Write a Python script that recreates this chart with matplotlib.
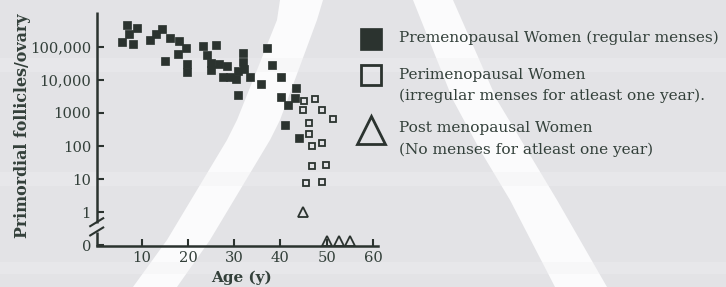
import numpy as np
import matplotlib
matplotlib.use("Agg")
import matplotlib.pyplot as plt
from matplotlib.patches import Polygon
from matplotlib.lines import Line2D
from matplotlib.transforms import ScaledTranslation

# ---------------- data ----------------
pre_age = [6.9, 9.1, 7.3, 5.8, 8.2, 14.3, 13.0, 11.8, 16.2, 18.1, 19.6, 17.9, 15.0, 19.9,
           19.9, 23.3, 26.1, 24.1, 25.1, 25.0, 26.8, 28.4, 27.5, 29.0, 30.4, 30.9, 32.0,
           32.0, 32.1, 33.4, 30.8, 35.9, 37.2, 38.2, 40.2, 43.3, 40.1, 41.7, 43.1, 40.9, 44.0]
pre_count = [460000, 370000, 240000, 140000, 120000, 340000, 240000, 160000, 190000, 145000,
             91000, 59000, 38000, 31000, 17000, 105000, 110000, 58000, 33000, 20000, 30000,
             26000, 12000, 12000, 10500, 19000, 66000, 35000, 21000, 12000, 3400, 7400, 91000,
             29000, 12300, 5500, 3000, 1700, 2750, 430, 170]

peri_age = [45.2, 47.5, 44.8, 48.9, 51.4, 46.2, 46.2, 46.9, 49.1, 46.9, 49.9, 45.6, 49.1]
peri_count = [2240, 2570, 1230, 1230, 640, 500, 235, 100, 120, 25, 26, 7.8, 8.5]

post_age = [44.8, 50.0, 52.7, 55.0]
post_count = [1, 0, 0, 0]

ytick_vals = [0, 1, 10, 100, 1000, 10000, 100000]
ytick_labels = ["0", "1", "10", "100", "1000", "10,000", "100,000"]
xtick_vals = [10, 20, 30, 40, 50, 60]

legend_lines = [
    ["Premenopausal Women (regular menses)"],
    ["Perimenopausal Women", "(irregular menses for atleast one year)."],
    ["Post menopausal Women", "(No menses for atleast one year)"],
]


def fwd(c):
    c = np.asarray(c, dtype=float)
    out = np.full(c.shape, -1.0)
    pos = c > 0
    out[pos] = np.log10(c[pos])
    return out


W, H = 726, 287
BG = "#e3e3e6"
INK = "#2b332f"
TXT = "#33403a"
SERIF = "DejaVu Serif"

fig = plt.figure(figsize=(W / 100, H / 100), dpi=100, facecolor=BG)


def fx(x):
    return x / W


def fy(y):
    return 1 - y / H


# decorative white arches of the scan
left_band_l = [(280, 0), (277, 20), (237, 120), (227, 140), (167, 240), (133, 287)]
left_band_r = [(323, 0), (317, 20), (280, 120), (270, 140), (210, 240), (177, 287)]
right_band_l = [(413, 0), (453, 100), (480, 150), (510, 200), (555, 287)]
right_band_r = [(453, 0), (497, 100), (527, 150), (557, 200), (607, 287)]
for l, r in [(left_band_l, left_band_r), (right_band_l, right_band_r)]:
    pts = [(fx(x), fy(y)) for x, y in l] + [(fx(x), fy(y)) for x, y in r[::-1]]
    fig.add_artist(Polygon(pts, closed=True, transform=fig.transFigure,
                           facecolor="#fbfbfc", edgecolor="none", zorder=0))
# faint light streaks
for y0, y1 in [(58, 72), (172, 186), (262, 274)]:
    fig.add_artist(Polygon([(0, fy(y0)), (1, fy(y0)), (1, fy(y1)), (0, fy(y1))],
                           closed=True, transform=fig.transFigure,
                           facecolor="#f0f0f2", edgecolor="none", zorder=0, alpha=0.35))

ax_l, ax_r, ax_t, ax_b = 96.7, 378, 12, 245.7
ax = fig.add_axes([fx(ax_l), fy(ax_b), (ax_r - ax_l) / W, (ax_b - ax_t) / H])
ax.set_facecolor("none")
ax.set_zorder(2)
ax.set_xlim(0.28, 61.1)
ax.set_ylim(-1.01, 6.05)

for s in ["top", "right", "left"]:
    ax.spines[s].set_visible(False)
ax.spines["bottom"].set_color(INK)
ax.spines["bottom"].set_linewidth(1.8)

# broken y axis
x0 = ax.get_xlim()[0]
ax.plot([x0, x0], [-0.33, 6.05], color=INK, lw=1.8, clip_on=False, solid_capstyle="butt")
ax.plot([x0, x0], [-1.01, -0.60], color=INK, lw=1.8, clip_on=False, solid_capstyle="butt")
for yb in [-0.30, -0.58]:
    ax.plot([x0 - 1.4, x0 + 1.4], [yb - 0.12, yb + 0.12], color=INK, lw=1.5, clip_on=False)

ax.set_yticks(fwd(ytick_vals))
ax.set_yticklabels(ytick_labels)
ax.set_xticks(xtick_vals)
ax.tick_params(axis="both", direction="in", length=5, width=1.5, color=INK,
               labelcolor=TXT, labelsize=10.6)
ax.tick_params(axis="y", pad=4)
ax.tick_params(axis="x", pad=4)
for lab in ax.get_xticklabels() + ax.get_yticklabels():
    lab.set_family(SERIF)

ax.plot(pre_age, fwd(pre_count), ls="none", marker="s", ms=5.2, mfc=INK, mec=INK,
        mew=0.5, clip_on=False, zorder=3)
ax.plot(peri_age, fwd(peri_count), ls="none", marker="s", ms=4.6, mfc="none", mec=INK,
        mew=1.3, clip_on=False, zorder=3)
pa = np.array(post_age)
pc = np.array(post_count)
ax.plot(pa[pc > 0], fwd(pc[pc > 0]), ls="none", marker="^", ms=7.5, mfc="none", mec=INK,
        mew=1.3, clip_on=False, zorder=3)
lift = ax.transData + ScaledTranslation(0, 3.5 / 72, fig.dpi_scale_trans)
ax.plot(pa[pc == 0], fwd(pc[pc == 0]), ls="none", marker="^", ms=7.5, mfc="none", mec=INK,
        mew=1.3, clip_on=False, zorder=3, transform=lift)

fig.text(fx(23), fy(126), "Primordial follicles/ovary", rotation=90, ha="center",
         va="center", family=SERIF, weight="bold", fontsize=11.4, color=TXT)
fig.text(fx(241), fy(278), "Age (y)", ha="center", va="center", family=SERIF,
         weight="bold", fontsize=11, color=TXT)

# legend
mk_x = 370.5
handles = [dict(marker="s", ms=15.5, mfc=INK, mec=INK, mew=0.5, y=38.8),
           dict(marker="s", ms=14.5, mfc="none", mec=INK, mew=2.0, y=75),
           dict(marker="^", ms=20, mfc="none", mec=INK, mew=2.0, y=130)]
line_y = [[37.5], [74.5, 96], [128, 150]]
for h, lines, ys in zip(handles, legend_lines, line_y):
    yy = h.pop("y")
    fig.add_artist(Line2D([fx(mk_x)], [fy(yy)], transform=fig.transFigure, ls="none", **h))
    for t, y in zip(lines, ys):
        fig.text(fx(399), fy(y), t, ha="left", va="center", family=SERIF, fontsize=11.05,
                 color=TXT)

fig.savefig("out.png", dpi=100, facecolor=BG)
